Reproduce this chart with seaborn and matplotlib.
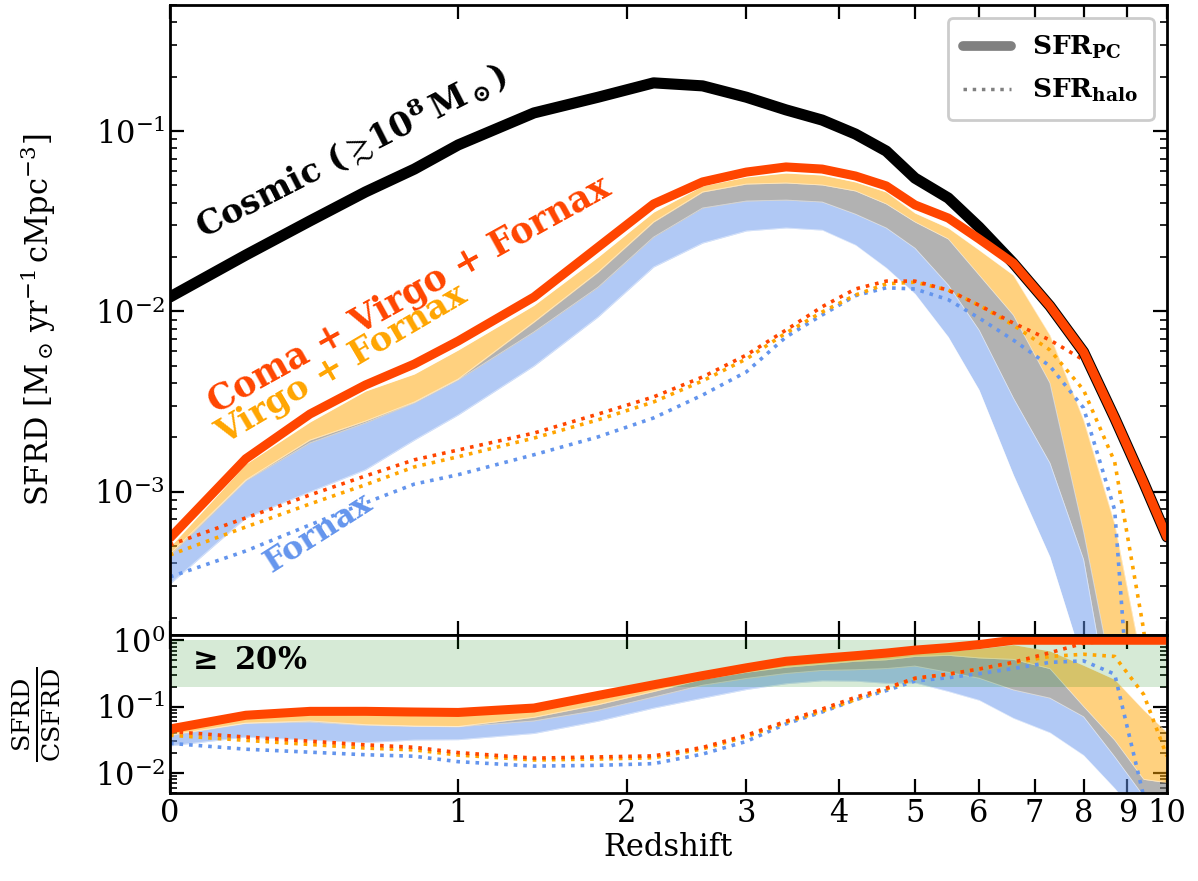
import numpy as np
import matplotlib
matplotlib.use("Agg")
import matplotlib.pyplot as plt
import seaborn as sns
from matplotlib.lines import Line2D
from matplotlib.ticker import NullLocator, FixedLocator

# ---------------- data ----------------
redshift = [0, 0.2, 0.4, 0.6, 0.8, 1.0, 1.4, 1.8, 2.2, 2.6, 3.0, 3.4, 3.8, 4.2,
            4.6, 5.0, 5.5, 6.0, 6.6, 7.3, 8.0, 8.7, 9.4, 10.0]

cosmic = [0.0120, 0.0205, 0.0317, 0.0459, 0.0615, 0.0837, 0.126, 0.154, 0.185,
          0.178, 0.154, 0.131, 0.115, 0.0962, 0.0774, 0.0548, 0.0425, 0.0293,
          0.0185, 0.0107, 0.00595, 0.00256, 0.00112, 0.00056]

coma_virgo_fornax = [0.000553, 0.00152, 0.00269, 0.00390, 0.00510, 0.00684,
                     0.0120, 0.0227, 0.0394, 0.0522, 0.0592, 0.0632, 0.0615,
                     0.0563, 0.0496, 0.0389, 0.0329, 0.0252, 0.0185, 0.0107,
                     0.00595, 0.00256, 0.00112, 0.00056]

virgo_fornax_hi = [4.93e-4, 1.42e-3, 2.43e-3, 3.61e-3, 4.49e-3, 6.10e-3, 0.0108,
                   0.0200, 0.0355, 0.0496, 0.0556, 0.0585, 0.0570, 0.0522,
                   0.0459, 0.0351, 0.0290, 0.0219, 0.0159, 7.39e-3, 2.5e-3,
                   6.6e-4, 1.0e-4, 2.3e-5]

grey_hi = [4.51e-4, 1.16e-3, 1.93e-3, 2.46e-3, 3.14e-3, 4.21e-3, 8.72e-3, 0.0165,
           0.0313, 0.0459, 0.0508, 0.0515, 0.0502, 0.0465, 0.0394, 0.0313,
           0.0252, 0.0159, 9.54e-3, 4.0e-3, 6.0e-4, 8.0e-5, 9e-6, 4e-6]

fornax_hi = [4.39e-4, 1.145e-3, 1.86e-3, 2.40e-3, 3.10e-3, 4.16e-3, 7.68e-3,
             0.0136, 0.0258, 0.0374, 0.0409, 0.0414, 0.0404, 0.0346, 0.0290,
             0.0224, 0.0140, 7.87e-3, 3.31e-3, 1.44e-3, 4.2e-4, 4.5e-5, 5e-6,
             2e-6]

fornax_lo = [3.07e-4, 7.14e-4, 9.95e-4, 1.32e-3, 1.93e-3, 2.66e-3, 4.97e-3,
             9.30e-3, 0.0176, 0.0239, 0.0279, 0.0290, 0.0282, 0.0233, 0.0174,
             0.0125, 7.20e-3, 3.66e-3, 1.24e-3, 4.34e-4, 1.1e-4, 1.5e-5, 2e-6,
             1e-6]

halo_coma_virgo_fornax = [5.06e-4, 7.14e-4, 9.57e-4, 1.22e-3, 1.50e-3, 1.70e-3,
                          2.11e-3, 2.69e-3, 3.35e-3, 4.32e-3, 5.72e-3, 7.87e-3,
                          0.0106, 0.0133, 0.0147, 0.0147, 0.0131, 0.0108,
                          8.61e-3, 6.93e-3, 5.37e-3, 2.56e-3, 1.12e-3, 5.6e-4]

halo_virgo_fornax = [4.45e-4, 6.36e-4, 8.53e-4, 1.09e-3, 1.37e-3, 1.56e-3,
                     1.98e-3, 2.50e-3, 3.14e-3, 4.11e-3, 5.44e-3, 7.58e-3,
                     9.91e-3, 0.0123, 0.0142, 0.0145, 0.0131, 0.0108, 8.39e-3,
                     6.10e-3, 3.66e-3, 1.46e-3, 1.71e-4, 1.0e-5]

halo_fornax = [3.36e-4, 4.68e-4, 6.53e-4, 8.65e-4, 1.10e-3, 1.24e-3, 1.60e-3,
               2.01e-3, 2.56e-3, 3.43e-3, 4.61e-3, 7.20e-3, 9.54e-3, 0.0122,
               0.0135, 0.0133, 0.0116, 9.18e-3, 6.93e-3, 4.97e-3, 2.91e-3,
               7.9e-4, 5e-6, 1e-6]

xtick_values = [0, 1, 2, 3, 4, 5, 6, 7, 8, 9, 10]

# ---------------- style ----------------
sns.set_style("ticks")
plt.rcParams.update({
    "font.family": ["DejaVu Serif"],
    "mathtext.fontset": "dejavuserif",
    "text.color": "black",
    "axes.labelcolor": "black",
    "axes.edgecolor": "black",
    "xtick.color": "black",
    "ytick.color": "black",
    "axes.linewidth": 2.0,
    "xtick.major.width": 1.6, "ytick.major.width": 1.6,
    "xtick.minor.width": 1.2, "ytick.minor.width": 1.2,
    "xtick.major.size": 10, "ytick.major.size": 10,
    "xtick.minor.size": 5, "ytick.minor.size": 5,
})

RED = "#FF4500"
ORANGE = "#FFA500"
BLUE = "#6495ED"

z = np.array(redshift)
cos = np.array(cosmic)

fig = plt.figure(figsize=(11.98, 8.81), dpi=100)
gs = fig.add_gridspec(2, 1, height_ratios=[630, 158], hspace=0,
                      left=0.1419, right=0.9741, top=0.9943, bottom=0.0999)
ax = fig.add_subplot(gs[0])
axr = fig.add_subplot(gs[1], sharex=ax)

fwd = lambda x: np.log10(1 + np.asarray(x, dtype=float))
inv = lambda u: 10 ** np.asarray(u, dtype=float) - 1


def draw(a, scale):
    s = np.array(scale)
    lo = np.array(fornax_lo) / s
    bh = np.array(fornax_hi) / s
    gh = np.array(grey_hi) / s
    oh = np.array(virgo_fornax_hi) / s
    a.fill_between(z, lo, bh, color=BLUE, alpha=0.5, lw=0, zorder=1)
    a.fill_between(z, bh, gh, color="grey", alpha=0.6, lw=0, zorder=1)
    a.fill_between(z, gh, oh, color=ORANGE, alpha=0.5, lw=0, zorder=1)
    for arr in (lo, bh, gh, oh):
        a.plot(z, arr, color="white", lw=0.6, alpha=0.5, zorder=1.5)
    for arr, c in ((halo_fornax, BLUE), (halo_virgo_fornax, ORANGE),
                   (halo_coma_virgo_fornax, RED)):
        sns.lineplot(x=z, y=np.array(arr) / s, ax=a, color=c, lw=2.6,
                     linestyle=":", zorder=3)


# ---------------- top panel ----------------
draw(ax, np.ones_like(cos))
sns.lineplot(x=z, y=cos, ax=ax, color="black", lw=8, zorder=4)
sns.lineplot(x=z, y=np.array(coma_virgo_fornax), ax=ax, color=RED, lw=6.5,
             zorder=5)

ax.set_xscale("function", functions=(fwd, inv))
ax.set_yscale("log")
ax.set_xlim(0, 10)
ax.set_ylim(1.6e-4, 0.5)
ax.set_ylabel(r"SFRD [$\mathrm{M_\odot\,yr^{-1}\,cMpc^{-3}}$]", fontsize=22)
ax.yaxis.set_label_coords(-0.112, 0.5)
ax.tick_params(axis="x", labelbottom=False)

ax.text(0.1805, 0.770, r"Cosmic ($\gtrsim\!\mathbf{10^8\,M_\odot}$)",
        transform=ax.transAxes, rotation=27, rotation_mode="anchor",
        ha="center", va="center", fontsize=24, fontweight="bold", color="black")
ax.text(0.240, 0.540, "Coma + Virgo + Fornax", transform=ax.transAxes,
        rotation=29, rotation_mode="anchor", ha="center", va="center",
        fontsize=25, fontweight="bold", color=RED)
ax.text(0.1725, 0.4286, "Virgo + Fornax", transform=ax.transAxes,
        rotation=30.5, rotation_mode="anchor", ha="center", va="center",
        fontsize=24.5, fontweight="bold", color=ORANGE)
ax.text(0.1484, 0.162, "Fornax", transform=ax.transAxes, rotation=32.5,
        rotation_mode="anchor", ha="center", va="center", fontsize=23,
        fontweight="bold", color=BLUE)

handles = [Line2D([0], [0], color="grey", lw=7),
           Line2D([0], [0], color="grey", lw=2.5, linestyle=":")]
leg = ax.legend(handles, [r"$\mathbf{SFR_{PC}}$", r"$\mathbf{SFR_{halo}}$"],
                loc="upper right", fontsize=19, frameon=True, fancybox=True,
                framealpha=1, edgecolor="#cccccc", handlelength=1.8,
                borderpad=0.6, labelspacing=0.6)
leg.get_frame().set_linewidth(2)

# ---------------- ratio panel ----------------
axr.axhspan(0.2, 1.0, color="green", alpha=0.16, lw=0, zorder=2)
draw(axr, cos)
sns.lineplot(x=z, y=np.minimum(np.array(coma_virgo_fornax) / cos, 1.0), ax=axr,
             color=RED, lw=6.5, zorder=5)
axr.set_yscale("log")
axr.set_ylim(0.005, 1.2)
axr.set_xlim(0, 10)
axr.set_ylabel(r"$\frac{\mathrm{SFRD}}{\mathrm{CSFRD}}$", fontsize=26)
axr.yaxis.set_label_coords(-0.108, 0.5)
axr.set_xlabel("Redshift", fontsize=22, labelpad=2)
axr.text(0.017, 0.84, r"$\mathbf{\geq}$ 20%", transform=axr.transAxes,
         ha="left", va="center", fontsize=22, fontweight="bold", zorder=6)

for a in (ax, axr):
    a.xaxis.set_major_locator(FixedLocator(xtick_values))
    a.xaxis.set_minor_locator(NullLocator())
    a.tick_params(which="both", direction="in", top=True, right=True,
                  labelsize=22, colors="black")
axr.set_xticklabels([str(v) for v in xtick_values])
for a in (ax, axr):
    for sp in a.spines.values():
        sp.set_linewidth(2)
        sp.set_color("black")
        sp.set_zorder(10)

fig.savefig("out.png", dpi=100)
